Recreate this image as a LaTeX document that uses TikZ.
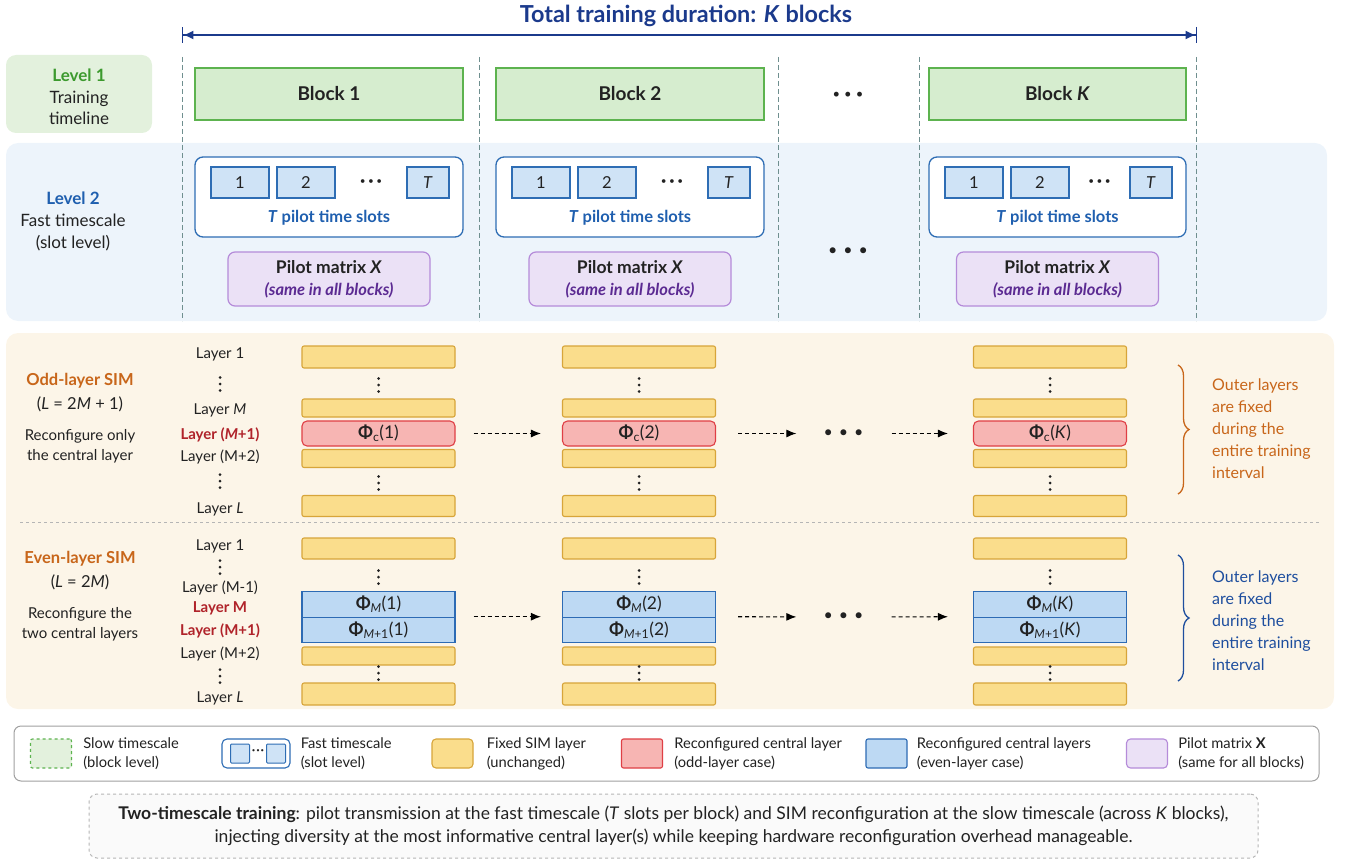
\documentclass[tikz,border=0pt]{standalone}
\usepackage{fontspec}
\setmainfont{Lato}
\usetikzlibrary{arrows.meta,decorations.pathreplacing,positioning}

\definecolor{inkgray}{HTML}{222222}
\definecolor{titleblue}{HTML}{1B3A8C}
\definecolor{vline}{HTML}{6F8F8F}
\definecolor{lvlonebg}{HTML}{E3F1DD}
\definecolor{lvltwobg}{HTML}{EDF4FB}
\definecolor{lowerbg}{HTML}{FCF5E8}
\definecolor{lvlgreen}{HTML}{3C9A2E}
\definecolor{lvlblue}{HTML}{1F5FAF}
\definecolor{blkfill}{HTML}{D6EDCF}
\definecolor{blkdraw}{HTML}{5DB34F}
\definecolor{slotdraw}{HTML}{2E6DB4}
\definecolor{slotfill}{HTML}{CFE3F6}
\definecolor{pilfill}{HTML}{EBE1F6}
\definecolor{pildraw}{HTML}{B58BD9}
\definecolor{piltext}{HTML}{5B2A92}
\definecolor{yelfill}{HTML}{FADD8C}
\definecolor{yeldraw}{HTML}{D7A53A}
\definecolor{redfill}{HTML}{F7B5B3}
\definecolor{reddraw}{HTML}{DF3F45}
\definecolor{bluefill}{HTML}{BDD9F3}
\definecolor{bluedraw}{HTML}{2D6BB4}
\definecolor{oddorange}{HTML}{C8661A}
\definecolor{layerred}{HTML}{B0232A}
\definecolor{evenblue}{HTML}{1E4E9E}
\definecolor{legdraw}{HTML}{A0A0A0}
\definecolor{sepgray}{HTML}{B5B5B5}
\definecolor{capfill}{HTML}{FAFAFA}

\begin{document}
\begin{tikzpicture}[x=1pt,y=-1pt]
  \tikzset{txt/.style = {inner sep=0pt, align=center, text=inkgray}}
  \tikzset{blockbox/.style = {draw=blkdraw, fill=blkfill, line width=1.3pt, minimum height=52pt, inner sep=0pt, text=inkgray, font=\fontsize{19}{22}\selectfont\bfseries}}
  \tikzset{slotframe/.style = {draw=slotdraw, fill=white, line width=1.3pt, rounded corners=8pt, minimum height=80pt, inner sep=0pt}}
  \tikzset{slot/.style = {draw=slotdraw, fill=slotfill, line width=1.1pt, minimum height=31pt, inner sep=0pt, text=inkgray, font=\fontsize{16.5}{18}\selectfont}}
  \tikzset{pilot/.style = {draw=pildraw, fill=pilfill, line width=1.2pt, rounded corners=7pt, minimum width=202pt, minimum height=54pt, inner sep=0pt, align=center, text=inkgray, font=\fontsize{17.5}{22}\selectfont}}
  \tikzset{fixed/.style = {draw=yeldraw, fill=yelfill, line width=1.1pt, rounded corners=2pt, minimum width=153pt, inner sep=0pt}}
  \tikzset{oddc/.style = {draw=reddraw, fill=redfill, line width=1.1pt, rounded corners=5pt, minimum width=153pt, minimum height=25pt, inner sep=0pt, text=inkgray, font=\fontsize{17.5}{18}\selectfont}}
  \tikzset{evenc/.style = {draw=bluedraw, fill=bluefill, line width=1.1pt, minimum width=153pt, minimum height=25.5pt, inner sep=0pt, text=inkgray, font=\fontsize{17.5}{18}\selectfont}}
  \tikzset{flow/.style = {-{Latex[length=10pt,width=8pt]}, dash pattern=on 4pt off 3pt, line width=1.1pt}}
  \tikzset{layerlbl/.style = {inner sep=0pt, text=inkgray, font=\fontsize{15}{16}\selectfont}}
  \tikzset{redlbl/.style = {layerlbl, text=layerred, font=\fontsize{15}{16}\selectfont\bfseries}}
  \tikzset{vdots/.style = {minimum width=5pt, minimum height=18pt, inner sep=0pt,
      path picture={\foreach \k in {-1,0,1} \fill[inkgray] (path picture bounding box.center) ++(0,\k*6.5) circle (1.5pt);}}}
  \tikzset{hdots/.style = {inner sep=0pt, text=inkgray, font=\fontsize{15}{16}\selectfont}}
  \tikzset{swatch/.style = {minimum width=41pt, minimum height=29pt, inner sep=0pt, line width=1.1pt, rounded corners=4pt}}
  \tikzset{legtxt/.style = {anchor=west, align=left, inner sep=0pt, text=inkgray, font=\fontsize{14.7}{19}\selectfont}}
  \tikzset{brc/.style = {decorate, decoration={brace, amplitude=11pt}, line width=1.3pt}}

\useasboundingbox (0,0) rectangle (1348,861);

% backgrounds
\fill[lvltwobg, rounded corners=12pt] (6,143) rectangle (1327,321);
\fill[lvlonebg, rounded corners=10pt] (6,55) rectangle (152,133);
\fill[lowerbg, rounded corners=12pt] (6,333) rectangle (1334,709);
\draw[sepgray, dashed, line width=0.9pt] (20,522) -- (1320,522);

% time axis
\node[font=\fontsize{23.4}{26}\selectfont\bfseries, text=titleblue] (title) at (686,16) {Total training duration: \textit{K} blocks};
\coordinate (tl) at (182,35);
\coordinate (tr) at (1197,35);
\draw[titleblue, line width=1.4pt, {Bar[width=16pt]Latex[length=10pt,width=9pt]}-{Latex[length=10pt,width=9pt]Bar[width=16pt]}] (tl) -- (tr);
\foreach \x in {182,479,778,919,1196}
  \draw[vline, dash pattern=on 5pt off 3pt, line width=1pt] (\x,57) -- (\x,321);

% level labels
\node[txt, font=\fontsize{17}{21.5}\selectfont] (lvl1) at (79,97) {\textcolor{lvlgreen}{\bfseries Level 1}\\ Training\\ timeline};
\node[txt, font=\fontsize{17}{22}\selectfont] (lvl2) at (73,221) {\textcolor{lvlblue}{\bfseries Level 2}\\ Fast timescale\\ (slot level)};

% blocks, slots, pilots
\foreach \i/\cx/\w/\lab in {1/329/268/1, 2/630/268/2, 3/1057.5/257/{\textit{K}}} {
  \pgfmathsetmacro{\xl}{\cx-\w/2}
  \pgfmathsetmacro{\xr}{\cx+\w/2}
  \node[blockbox, minimum width=\w pt] (blk\i) at (\cx,94) {Block \lab};
  \node[slotframe, minimum width=\w pt] (frm\i) at (\cx,197) {};
  \node[slot, minimum width=58pt] (sa\i) at ({\xl+45},182.5) {1};
  \node[slot, minimum width=58pt] (sb\i) at ({\xl+111},182.5) {2};
  \node[slot, minimum width=42pt] (st\i) at ({\xr-35},182.5) {\textit{T}};
  \node[hdots, font=\fontsize{10}{11}\selectfont] (sd\i) at ({(\xl+140+\xr-56)/2},182.5) {•\hspace{2.5pt}•\hspace{2.5pt}•};
  \node[inner sep=0pt, text=lvlblue, font=\fontsize{16.5}{18}\selectfont\bfseries] (tps\i) at (\cx,218) {\textit{T} pilot time slots};
  \node[pilot] (pm\i) at (\cx,279) {\textbf{Pilot matrix \textit{X}}\\ {\fontsize{16.5}{20}\selectfont\color{piltext}\bfseries\itshape (same in all blocks)}};
}
\node[hdots, font=\fontsize{13}{14}\selectfont] (bdots) at (848,95) {•\hspace{4pt}•\hspace{4pt}•};
\node[hdots, font=\fontsize{16}{17}\selectfont] (pdots) at (848,252) {•\hspace{6pt}•\hspace{6pt}•};

% layer labels
\node[txt, font=\fontsize{16.5}{24}\selectfont] (oddhead) at (80,393) {\textcolor{oddorange}{\bfseries Odd-layer SIM}\\ (\textit{L} = 2\textit{M} + 1)};
\node[txt, font=\fontsize{15}{20}\selectfont] (oddnote) at (80,446) {Reconfigure only\\ the central layer};
\node[txt, font=\fontsize{16.5}{24}\selectfont] (evenhead) at (80,571) {\textcolor{oddorange}{\bfseries Even-layer SIM}\\ (\textit{L} = 2\textit{M})};
\node[txt, font=\fontsize{15}{20}\selectfont] (evennote) at (80,624.5) {Reconfigure the\\ two central layers};

\node[layerlbl] (lo1) at (220,354) {Layer 1};
\node[vdots] (lod1) at (220,384) {};
\node[layerlbl] (loM) at (220,410) {Layer \textit{M}};
\node[redlbl] (loC) at (220,435) {Layer (\textit{M}+1)};
\node[layerlbl] (loN) at (220,457) {Layer (M+2)};
\node[vdots] (lod2) at (220,481) {};
\node[layerlbl] (loL) at (220,509) {Layer \textit{L}};

\node[layerlbl] (le1) at (220,546) {Layer 1};
\node[vdots] (led1) at (220,567) {};
\node[layerlbl] (leP) at (220,588) {Layer (M-1)};
\node[redlbl] (leM) at (220,608) {Layer M};
\node[redlbl] (leC) at (220,631) {Layer (M+1)};
\node[layerlbl] (leN) at (220,654) {Layer (M+2)};
\node[vdots] (led2) at (220,676) {};
\node[layerlbl] (leL) at (220,698) {Layer \textit{L}};

% SIM stacks
\foreach \j/\cx/\lab in {1/378.5/1, 2/639/2, 3/1050/{\textit{K}}} {
  \node[fixed, minimum height=22pt] (oa\j) at (\cx,357) {};
  \node[vdots] (ob\j) at (\cx,385) {};
  \node[fixed, minimum height=18pt] (om\j) at (\cx,408) {};
  \node[oddc] (oc\j) at (\cx,433.5) {{\bfseries Φ}\textsubscript{c}(\lab)};
  \node[fixed, minimum height=18pt] (on\j) at (\cx,458.5) {};
  \node[vdots] (od\j) at (\cx,483) {};
  \node[fixed, minimum height=21pt] (ol\j) at (\cx,506) {};
  \node[fixed, minimum height=21pt] (ea\j) at (\cx,548.5) {};
  \node[vdots] (eb\j) at (\cx,577) {};
  \node[evenc] (em\j) at (\cx,604.5) {{\bfseries Φ}\textsubscript{\textit{M}}(\lab)};
  \node[evenc] (ep\j) at (\cx,630) {{\bfseries Φ}\textsubscript{\textit{M}+1}(\lab)};
  \node[fixed, minimum height=18pt] (en\j) at (\cx,656) {};
  \node[vdots] (ed\j) at (\cx,673) {};
  \node[fixed, minimum height=22pt] (el\j) at (\cx,694) {};
}

\node[hdots, font=\fontsize{16}{17}\selectfont] (odots) at (843.5,433.5) {•\hspace{6pt}•\hspace{6pt}•};
\node[hdots, font=\fontsize{16}{17}\selectfont] (edots) at (843.5,617) {•\hspace{6pt}•\hspace{6pt}•};
\draw[flow, shorten <=18pt, shorten >=21pt] (oc1) -- (oc2);
\draw[flow, shorten <=22pt, shorten >=27pt] (oc2) -- (odots);
\draw[flow, shorten <=28pt, shorten >=25pt] (odots) -- (oc3);
\draw[flow, shorten <=18pt, shorten >=21pt] (ep1.north east) -- (ep2.north west);
\draw[flow, shorten <=22pt, shorten >=27pt] (ep2.north east) -- (edots);
\draw[flow, shorten <=28pt, shorten >=25pt] (edots) -- (ep3.north west);

% braces
\draw[brc, oddorange] (1178,365) -- (1178,494);
\draw[brc, evenblue] (1178,555) -- (1178,681);
\node[anchor=west, align=left, inner sep=0pt, text=oddorange, font=\fontsize{16}{22}\selectfont] (oddfix) at (1212,429) {Outer layers\\ are fixed\\ during the\\ entire training\\ interval};
\node[anchor=west, align=left, inner sep=0pt, text=evenblue, font=\fontsize{16}{22}\selectfont] (evenfix) at (1212,620.5) {Outer layers\\ are fixed\\ during the\\ entire training\\ interval};

% legend
\node[draw=legdraw, fill=white, rounded corners=7pt, line width=1pt, minimum width=1305pt, minimum height=55pt] (legend) at (666.5,753.5) {};
\node[swatch, draw=blkdraw, fill=lvlonebg, dashed, rounded corners=2pt] (sw1) at (51,753.5) {};
\node[legtxt, right=11pt of sw1] (lg1) {Slow timescale\\ (block level)};
\node[swatch, draw=slotdraw, fill=white, minimum width=68pt, rounded corners=5pt] (sw2) at (256,753.5) {};
\node[draw=slotdraw, fill=slotfill, minimum size=19pt, inner sep=0pt, line width=1pt, rounded corners=1pt] (sw2a) at (240,753.5) {};
\node[draw=slotdraw, fill=slotfill, minimum size=19pt, inner sep=0pt, line width=1pt, rounded corners=1pt] (sw2b) at (276,753.5) {};
\node[hdots, font=\fontsize{6}{7}\selectfont] (sw2d) at (258,751) {•\,•\,•};
\node[legtxt, right=10pt of sw2] (lg2) {Fast timescale\\ (slot level)};
\node[swatch, draw=yeldraw, fill=yelfill] (sw3) at (452.5,753.5) {};
\node[legtxt, right=13pt of sw3] (lg3) {Fixed SIM layer\\ (unchanged)};
\node[swatch, draw=reddraw, fill=redfill, rounded corners=2pt] (sw4) at (642,753.5) {};
\node[legtxt, right=11pt of sw4] (lg4) {Reconfigured central layer\\ (odd-layer case)};
\node[swatch, draw=bluedraw, fill=bluefill, rounded corners=2pt] (sw5) at (886.5,753.5) {};
\node[legtxt, right=9pt of sw5] (lg5) {Reconfigured central layers\\ (even-layer case)};
\node[swatch, draw=pildraw, fill=pilfill] (sw6) at (1147,753.5) {};
\node[legtxt, right=10pt of sw6] (lg6) {Pilot matrix \textbf{X}\\ (same for all blocks)};

% summary
\node[draw=sepgray, dashed, fill=capfill, rounded corners=8pt, line width=1pt, minimum width=1169pt, minimum height=64pt, align=center, text=inkgray, font=\fontsize{17.5}{23}\selectfont] (summary) at (673.5,826) {\textbf{Two-timescale training}: pilot transmission at the fast timescale (\textit{T} slots per block) and SIM reconfiguration at the slow timescale (across \textit{K} blocks),\\ injecting diversity at the most informative central layer(s) while keeping hardware reconfiguration overhead manageable.};
\end{tikzpicture}
\end{document}
